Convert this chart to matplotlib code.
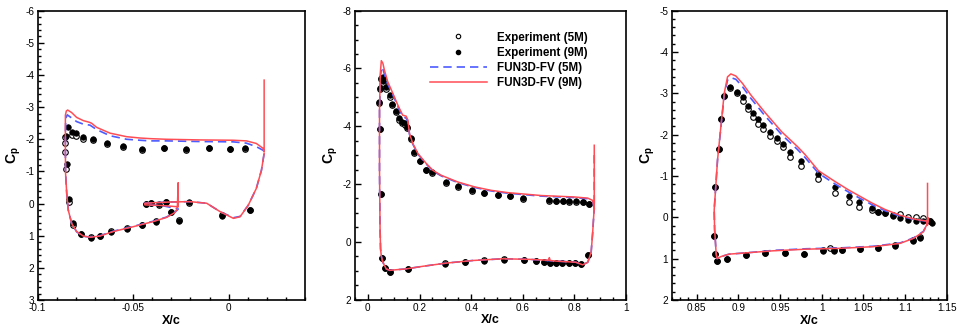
import matplotlib
matplotlib.use("Agg")
import matplotlib.pyplot as plt
from matplotlib.ticker import MultipleLocator, FuncFormatter
from matplotlib.lines import Line2D

plt.rcParams['font.family'] = ['Liberation Sans', 'DejaVu Sans']
plt.rcParams['axes.unicode_minus'] = False
plt.rcParams['mathtext.fontset'] = 'custom'
plt.rcParams['mathtext.rm'] = 'Liberation Sans'
plt.rcParams['mathtext.bf'] = 'Liberation Sans:bold'

# ---------------- Slat ----------------
slat_exp9_x = [-0.0840, -0.0822, -0.0800, -0.0761, -0.0709, -0.0639, -0.0555, -0.0455, -0.0339, -0.0224, -0.0104, 0.0006, 0.0088,
               -0.0852, -0.0848, -0.0836, -0.0814, -0.0775, -0.0722, -0.0674, -0.0616, -0.0531, -0.0452, -0.0378, -0.0303, -0.0261,
               -0.0435, -0.0404, -0.0365, -0.0329, -0.0207, -0.0034, 0.0114]
slat_exp9_y = [-2.37, -2.22, -2.18, -2.08, -2.00, -1.87, -1.79, -1.70, -1.74, -1.70, -1.74, -1.71, -1.72,
               -2.10, -1.23, -0.14, 0.60, 0.96, 1.06, 1.01, 0.88, 0.78, 0.67, 0.56, 0.27, 0.53,
               0.00, -0.03, 0.02, -0.06, -0.04, 0.38, 0.20]
slat_exp5_x = [-0.0857, -0.0857, -0.0857, -0.0853, -0.0822, -0.0800, -0.0761, -0.0709, -0.0639, -0.0555, -0.0455, -0.0339, -0.0224, -0.0104, 0.0006, 0.0088,
               -0.0836, -0.0814, -0.0775, -0.0722, -0.0674, -0.0616, -0.0531, -0.0452, -0.0378, -0.0303, -0.0261,
               -0.0435, -0.0404, -0.0365, -0.0329, -0.0207, -0.0034, 0.0114]
slat_exp5_y = [-2.06, -1.87, -1.61, -1.08, -2.12, -2.10, -2.00, -1.98, -1.85, -1.76, -1.68, -1.72, -1.67, -1.72, -1.69, -1.70,
               -0.06, 0.67, 0.95, 1.04, 1.00, 0.86, 0.77, 0.66, 0.55, 0.26, 0.52,
               0.01, -0.02, 0.03, -0.05, -0.03, 0.37, 0.19]
slat_fv9_x = [0.0186, 0.0186, 0.0180, 0.0145, 0.0093, 0.0023, -0.0151, -0.0325, -0.0412, -0.0465, -0.0534, -0.0621, -0.0691,
              -0.0718, -0.0730, -0.0761, -0.0796, -0.0822, -0.0843, -0.0850, -0.0855, -0.0855, -0.0855, -0.0854, -0.0848,
              -0.0840, -0.0822, -0.0796, -0.0761, -0.0726, -0.0674, -0.0604, -0.0500, -0.0395, -0.0325, -0.0282, -0.0269,
              -0.0264, -0.0264, -0.0350, -0.0439, -0.0439, -0.0380, -0.0300, -0.0202, -0.0115, -0.0045, 0.0025, 0.0060,
              0.0103, 0.0145, 0.0172, 0.0186]
slat_fv9_y = [-3.84, -1.61, -1.72, -1.87, -1.95, -1.97, -1.98, -2.00, -2.02, -2.04, -2.08, -2.19, -2.37,
              -2.50, -2.53, -2.58, -2.68, -2.83, -2.91, -2.88, -2.75, -2.18, -1.67, -0.94, -0.32,
              0.20, 0.62, 0.87, 1.01, 1.05, 1.01, 0.87, 0.72, 0.56, 0.43, 0.28, 0.18,
              -0.65, 0.10, 0.06, 0.04, -0.01, -0.03, -0.05, -0.06, -0.01, 0.25, 0.46, 0.41,
              0.05, -0.47, -1.04, -1.56]
slat_fv5_x = [0.0186, 0.0180, 0.0145, 0.0093, 0.0023, -0.0151, -0.0325, -0.0412, -0.0465, -0.0534, -0.0621, -0.0691,
              -0.0726, -0.0761, -0.0796, -0.0831, -0.0845, -0.0853, -0.0855, -0.0855, -0.0854, -0.0848, -0.0840,
              -0.0822, -0.0796, -0.0761, -0.0726, -0.0674, -0.0604, -0.0500, -0.0395, -0.0325, -0.0282, -0.0264,
              -0.0350, -0.0439, -0.0439, -0.0380, -0.0300, -0.0202, -0.0115, -0.0045, 0.0025, 0.0060, 0.0103,
              0.0145, 0.0172, 0.0186]
slat_fv5_y = [-1.62, -1.66, -1.77, -1.88, -1.92, -1.93, -1.95, -1.95, -1.97, -2.00, -2.11, -2.30,
              -2.44, -2.47, -2.55, -2.70, -2.76, -2.65, -2.18, -1.67, -0.94, -0.32, 0.20,
              0.62, 0.88, 1.02, 1.04, 1.00, 0.86, 0.71, 0.55, 0.42, 0.27, 0.17,
              0.06, 0.04, -0.01, -0.03, -0.05, -0.06, -0.01, 0.25, 0.44, 0.40, 0.05,
              -0.47, -1.04, -1.56]

# ---------------- Main ----------------
main_exp9_x = [0.049, 0.042, 0.045, 0.045, 0.052, 0.058, 0.060, 0.071, 0.084, 0.094, 0.107, 0.122, 0.133, 0.142, 0.151,
               0.168, 0.180, 0.200, 0.226, 0.250, 0.303, 0.351, 0.403, 0.451, 0.503, 0.552, 0.601, 0.703, 0.729, 0.755,
               0.780, 0.806, 0.832, 0.856,
               0.0554, 0.068, 0.0875, 0.155, 0.300, 0.377, 0.451, 0.528, 0.604, 0.653, 0.684, 0.706, 0.728, 0.753,
               0.778, 0.801, 0.827, 0.854]
main_exp9_y = [-1.67, -4.84, -3.92, -5.31, -5.66, -5.71, -5.55, -5.36, -5.08, -4.77, -4.53, -4.27, -4.15, -4.10, -3.98,
               -3.59, -3.11, -2.80, -2.50, -2.40, -2.07, -1.92, -1.78, -1.70, -1.63, -1.58, -1.50, -1.43, -1.42, -1.41,
               -1.40, -1.40, -1.38, -1.32,
               0.57, 0.91, 1.05, 0.96, 0.76, 0.71, 0.65, 0.62, 0.64, 0.68, 0.71, 0.73, 0.73, 0.73,
               0.73, 0.73, 0.77, 0.47]
main_exp5_x = [0.049, 0.042, 0.045, 0.045, 0.052, 0.058, 0.060, 0.071, 0.084, 0.094, 0.107, 0.122, 0.133, 0.142, 0.151,
               0.168, 0.180, 0.200, 0.226, 0.250, 0.303, 0.351, 0.403, 0.451, 0.503, 0.552, 0.601, 0.703, 0.729, 0.755,
               0.780, 0.806, 0.832, 0.856,
               0.0554, 0.068, 0.0875, 0.155, 0.300, 0.377, 0.451, 0.528, 0.604, 0.653, 0.684, 0.706, 0.728, 0.753,
               0.778, 0.801, 0.827, 0.854]
main_exp5_y = [-1.65, -4.80, -3.90, -5.28, -5.63, -5.66, -5.48, -5.30, -5.02, -4.72, -4.48, -4.22, -4.10, -4.05, -3.94,
               -3.56, -3.09, -2.78, -2.48, -2.38, -2.05, -1.90, -1.77, -1.69, -1.62, -1.57, -1.49, -1.42, -1.41, -1.40,
               -1.39, -1.39, -1.37, -1.31,
               0.56, 0.90, 1.04, 0.95, 0.75, 0.70, 0.64, 0.61, 0.63, 0.67, 0.70, 0.72, 0.72, 0.72,
               0.72, 0.72, 0.76, 0.46]
main_fv9_x = [0.877, 0.877, 0.871, 0.852, 0.800, 0.671, 0.542, 0.477, 0.413, 0.348, 0.284, 0.252, 0.226, 0.194, 0.174,
              0.161, 0.155, 0.148, 0.135, 0.116, 0.097, 0.077, 0.064, 0.058, 0.052, 0.048, 0.045, 0.045, 0.047, 0.049,
              0.052, 0.058, 0.071, 0.084, 0.148, 0.213, 0.303, 0.406, 0.523, 0.626, 0.700, 0.703, 0.706, 0.729, 0.806,
              0.832, 0.852, 0.865, 0.871, 0.875, 0.877]
main_fv9_y = [-3.34, -1.15, -1.43, -1.51, -1.55, -1.60, -1.70, -1.78, -1.90, -2.07, -2.30, -2.47, -2.71, -3.05, -3.40,
              -3.75, -4.21, -4.35, -4.38, -4.73, -5.13, -5.54, -5.94, -6.18, -6.27, -5.83, -4.56, -2.47, -0.50, 0.24,
              0.50, 0.71, 0.94, 0.99, 0.94, 0.85, 0.74, 0.65, 0.59, 0.61, 0.64, 0.55, 0.65, 0.67, 0.71,
              0.80, 0.71, 0.36, -0.33, -0.91, -1.15]
main_fv5_x = [0.877, 0.877, 0.871, 0.852, 0.800, 0.671, 0.542, 0.477, 0.413, 0.348, 0.284, 0.252, 0.226, 0.194, 0.174,
              0.161, 0.155, 0.148, 0.135, 0.116, 0.097, 0.077, 0.064, 0.058, 0.053, 0.049, 0.045, 0.045, 0.047, 0.049,
              0.052, 0.058, 0.071, 0.084, 0.148, 0.213, 0.303, 0.406, 0.523, 0.626, 0.729, 0.806,
              0.832, 0.852, 0.865, 0.871, 0.875, 0.877]
main_fv5_y = [-3.00, -1.15, -1.41, -1.49, -1.53, -1.58, -1.68, -1.76, -1.88, -2.05, -2.28, -2.45, -2.69, -3.03, -3.38,
              -3.72, -4.16, -4.28, -4.33, -4.68, -5.08, -5.46, -5.80, -5.98, -6.05, -5.75, -4.56, -2.47, -0.50, 0.24,
              0.50, 0.71, 0.94, 0.99, 0.94, 0.85, 0.74, 0.65, 0.59, 0.61, 0.67, 0.71,
              0.80, 0.71, 0.36, -0.33, -0.91, -1.15]

# ---------------- Flap ----------------
flap_exp9_x = [0.872, 0.8765, 0.879, 0.883, 0.890, 0.898, 0.906, 0.912, 0.918, 0.924, 0.930, 0.938, 0.946, 0.953,
               0.962, 0.975, 0.996, 1.0165, 1.0325, 1.045, 1.060, 1.068, 1.076, 1.085, 1.094, 1.103, 1.113, 1.122,
               1.130, 1.132,
               0.8713, 0.8725, 0.8745, 0.886, 0.9086, 0.932, 0.956, 0.979, 1.0016, 1.015, 1.0245, 1.0457, 1.067,
               1.088, 1.109, 1.118]
flap_exp9_y = [-0.74, -1.65, -2.37, -2.94, -3.16, -3.04, -2.90, -2.70, -2.52, -2.37, -2.23, -2.07, -1.93, -1.77,
               -1.59, -1.37, -1.04, -0.73, -0.52, -0.36, -0.22, -0.13, -0.10, -0.03, 0.02, 0.06, 0.08, 0.09,
               0.09, 0.13,
               0.45, 0.89, 1.06, 1.01, 0.91, 0.87, 0.87, 0.89, 0.81, 0.81, 0.79, 0.77, 0.75,
               0.69, 0.57, 0.49]
flap_exp5_x = [0.872, 0.8765, 0.879, 0.883, 0.890, 0.898, 0.906, 0.912, 0.918, 0.924, 0.930, 0.938, 0.946, 0.953,
               0.962, 0.975, 0.996, 1.0165, 1.0325, 1.045, 1.060, 1.068, 1.076, 1.085, 1.094, 1.103, 1.113, 1.122,
               1.130,
               0.8713, 0.8725, 0.8745, 0.886, 0.9086, 0.932, 0.956, 0.979, 1.0016, 1.0105, 1.015, 1.0245, 1.0457,
               1.067, 1.088, 1.109, 1.118]
flap_exp5_y = [-0.74, -1.65, -2.37, -2.94, -3.14, -3.00, -2.81, -2.61, -2.44, -2.25, -2.13, -1.98, -1.85, -1.69,
               -1.47, -1.24, -0.92, -0.58, -0.38, -0.24, -0.18, -0.12, -0.10, -0.05, -0.07, -0.02, 0.00, 0.02,
               0.10,
               0.45, 0.89, 1.05, 1.00, 0.90, 0.86, 0.86, 0.88, 0.80, 0.73, 0.80, 0.78, 0.76,
               0.74, 0.68, 0.56, 0.48]
flap_fv9_x = [1.127, 1.127, 1.126, 1.113, 1.094, 1.076, 1.060, 1.045, 1.0325, 1.0165, 0.996, 0.980, 0.971, 0.952,
              0.931, 0.915, 0.905, 0.897, 0.891, 0.887, 0.883, 0.879, 0.875, 0.871, 0.8715, 0.8725, 0.8733, 0.8745,
              0.879, 0.889, 0.909, 0.9414, 0.9816, 1.0217, 1.0617, 1.094, 1.110, 1.122, 1.127, 1.128]
flap_fv9_y = [-0.82, 0.19, 0.09, 0.05, -0.05, -0.19, -0.35, -0.52, -0.66, -0.86, -1.13, -1.52, -1.71, -2.07,
              -2.56, -2.96, -3.24, -3.42, -3.47, -3.40, -3.00, -2.19, -1.39, -0.18, 0.30, 0.60, 0.87, 1.00,
              0.95, 0.89, 0.86, 0.81, 0.77, 0.75, 0.71, 0.63, 0.51, 0.35, 0.14, 0.02]
flap_fv5_x = [1.126, 1.113, 1.094, 1.076, 1.060, 1.045, 1.0325, 1.0165, 0.996, 0.980, 0.971, 0.952,
              0.931, 0.915, 0.905, 0.897, 0.891, 0.887, 0.883, 0.879, 0.875, 0.871, 0.8715, 0.8725, 0.8733, 0.8745,
              0.879, 0.889, 0.909, 0.9414, 0.9816, 1.0217, 1.0617, 1.094, 1.110, 1.122, 1.127, 1.128]
flap_fv5_y = [0.09, 0.06, -0.03, -0.16, -0.31, -0.47, -0.61, -0.80, -1.07, -1.45, -1.64, -2.00,
              -2.48, -2.88, -3.16, -3.34, -3.38, -3.32, -2.95, -2.17, -1.39, -0.18, 0.30, 0.60, 0.87, 1.00,
              0.95, 0.89, 0.86, 0.80, 0.76, 0.74, 0.70, 0.62, 0.50, 0.34, 0.14, 0.02]

legend_labels = ['Experiment (5M)', 'Experiment (9M)', 'FUN3D-FV (5M)', 'FUN3D-FV (9M)']

RED = '#ff4d55'
BLUE = '#4d5bff'

W, H = 959, 329
fig = plt.figure(figsize=(W / 100, H / 100), dpi=100)

def px_axes(l, r, t, b):
    return fig.add_axes([l / W, (H - b) / H, (r - l) / W, (b - t) / H])

axes_specs = [
    dict(box=(37.7, 305, 10.7, 300), xlim=(-0.1, 0.04), ylim=(3, -6), xmaj=0.05, xmin=0.01, ymaj=1, ymin=0.2,
         e5=(slat_exp5_x, slat_exp5_y), e9=(slat_exp9_x, slat_exp9_y),
         f5=(slat_fv5_x, slat_fv5_y), f9=(slat_fv9_x, slat_fv9_y)),
    dict(box=(355, 626, 10.7, 299.5), xlim=(-0.05, 1.0), ylim=(2, -8), xmaj=0.2, xmin=0.05, ymaj=2, ymin=0.5,
         e5=(main_exp5_x, main_exp5_y), e9=(main_exp9_x, main_exp9_y),
         f5=(main_fv5_x, main_fv5_y), f9=(main_fv9_x, main_fv9_y)),
    dict(box=(671.7, 946.7, 10.7, 300), xlim=(0.82, 1.15), ylim=(2, -5), xmaj=0.05, xmin=0.01, ymaj=1, ymin=0.2,
         e5=(flap_exp5_x, flap_exp5_y), e9=(flap_exp9_x, flap_exp9_y),
         f5=(flap_fv5_x, flap_fv5_y), f9=(flap_fv9_x, flap_fv9_y)),
]

fmt = FuncFormatter(lambda v, p: ('%g' % round(v, 6)) if abs(v) > 1e-12 else '0')

for i, s in enumerate(axes_specs):
    ax = px_axes(*s['box'])
    ax.plot(*s['e5'], linestyle='none', marker='o', ms=4.0, mfc='white', mec='black', mew=0.8, zorder=3)
    ax.plot(*s['e9'], linestyle='none', marker='o', ms=4.0, mfc='black', mec='black', mew=0.5, zorder=4)
    ax.plot(*s['f5'], color=BLUE, lw=1.2, dashes=(5, 3), zorder=5)
    ax.plot(*s['f9'], color=RED, lw=1.1, zorder=6)
    ax.set_xlim(*s['xlim'])
    ax.set_ylim(*s['ylim'])
    ax.xaxis.set_major_locator(MultipleLocator(s['xmaj']))
    ax.xaxis.set_minor_locator(MultipleLocator(s['xmin']))
    ax.yaxis.set_major_locator(MultipleLocator(s['ymaj']))
    ax.yaxis.set_minor_locator(MultipleLocator(s['ymin']))
    ax.xaxis.set_major_formatter(fmt)
    ax.yaxis.set_major_formatter(fmt)
    ax.tick_params(which='both', direction='in', top=False, right=False, width=1.0, labelsize=7.2, pad=2.5)
    ax.tick_params(which='major', length=4.5)
    ax.tick_params(which='minor', length=2.5)
    for sp in ax.spines.values():
        sp.set_linewidth(1.2)
    ax.set_xlabel('X/c', fontsize=9, fontweight='bold', labelpad=1)
    ax.set_ylabel(r'$\mathbf{C}_\mathbf{p}$', fontsize=10, labelpad=1.5)
    if i == 1:
        handles = [
            Line2D([], [], linestyle='none', marker='o', ms=3.2, mfc='white', mec='black', mew=0.8),
            Line2D([], [], linestyle='none', marker='o', ms=3.0, mfc='black', mec='black'),
            Line2D([], [], color=BLUE, lw=1.2, dashes=(5, 3)),
            Line2D([], [], color=RED, lw=1.1),
        ]
        ax.legend(handles, legend_labels, loc='upper left', bbox_to_anchor=(0.25, 0.952), frameon=False,
                  prop={'weight': 'bold', 'size': 8.4}, handlelength=4.9, handletextpad=0.9,
                  labelspacing=0.26, borderaxespad=0.2)

fig.savefig('out.png', dpi=100)
